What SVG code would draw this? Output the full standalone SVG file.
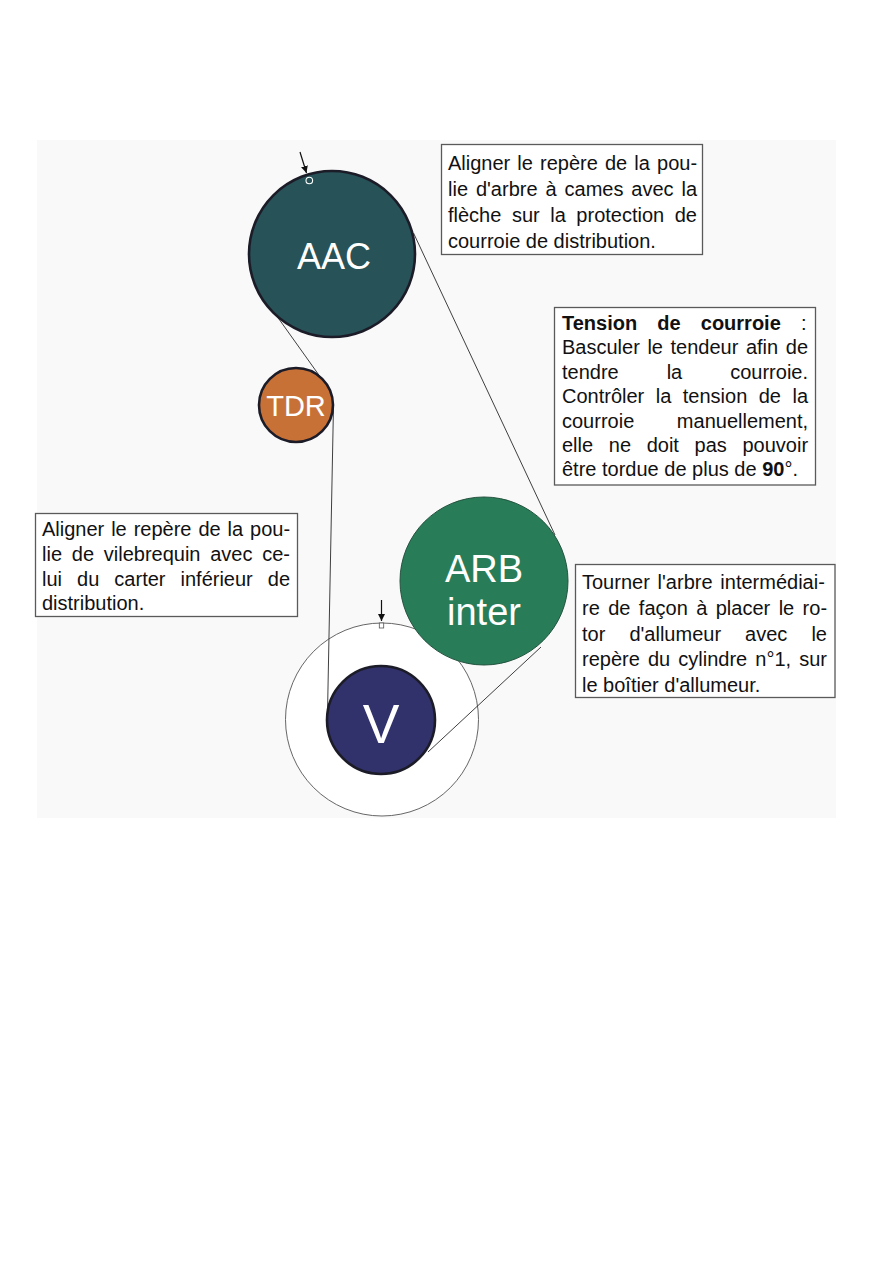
<svg xmlns="http://www.w3.org/2000/svg" width="893" height="1263" viewBox="0 0 893 1263">
<style>
.pulley{stroke:#1c1c28;stroke-width:2.6}
.lbl{font-family:"Liberation Sans",Arial,sans-serif;fill:#ffffff;text-anchor:middle}
.belt{fill:none;stroke:#2a2a2a;stroke-width:0.9}
.box{fill:#ffffff;stroke:#5a5a5a;stroke-width:1.3}
.t{font-family:"Liberation Sans",Arial,sans-serif;font-size:20px;fill:#111111}
.b{font-weight:bold}
.ptr{stroke:#111111;stroke-width:1.2;fill:none}
</style>
<defs>
<marker id="ah" viewBox="0 0 10 10" refX="10" refY="5" markerWidth="7" markerHeight="7" orient="auto" markerUnits="userSpaceOnUse">
<path d="M0,0 L10,5 L0,10 Z" fill="#111111"/>
</marker>
</defs>
<rect x="0" y="0" width="893" height="1263" fill="#ffffff"/>
<rect x="37" y="140" width="799" height="678" fill="#f9f9f9"/>

<g id="outer-ring">
<circle cx="382" cy="719.5" r="96.5" fill="#ffffff" stroke="#555555" stroke-width="0.9"/>
</g>

<g id="connectors">
<line class="belt" x1="413.5" y1="233" x2="555" y2="535"/>
<line class="belt" x1="277.5" y1="317" x2="326" y2="385"/>
<line class="belt" x1="333.5" y1="405" x2="327.5" y2="713"/>
<line class="belt" x1="428" y1="752" x2="541" y2="647"/>
<line class="ptr" x1="300" y1="152" x2="306.5" y2="173" marker-end="url(#ah)"/>
<line class="ptr" x1="381.5" y1="600" x2="381.5" y2="621" marker-end="url(#ah)"/>
</g>

<g id="AAC">
<circle class="pulley" cx="332" cy="254" r="83" fill="#265258"/>
<circle cx="309.3" cy="180.5" r="3.3" fill="none" stroke="#ffffff" stroke-width="1.1"/>
<text class="lbl" x="334" y="269" font-size="36">AAC</text>
</g>

<g id="TDR">
<circle class="pulley" cx="296" cy="405" r="37" fill="#c87137"/>
<text class="lbl" x="296" y="415.5" font-size="29">TDR</text>
</g>

<g id="ARB">
<circle cx="484" cy="581" r="84" fill="#287d58" stroke="#24533f" stroke-width="1"/>
<text class="lbl" x="484" y="582" font-size="38">ARB</text>
<text class="lbl" x="484" y="625" font-size="38">inter</text>
</g>

<g id="V">
<circle class="pulley" cx="381" cy="720" r="54" fill="#31316b"/>
<text class="lbl" x="381" y="742.5" font-size="55">V</text>
<rect x="379.3" y="623" width="4.4" height="5" fill="#ffffff" stroke="#555555" stroke-width="0.8"/>
</g>

<g id="note-aac">
<rect class="box" x="441.5" y="144.5" width="261" height="110"/>
<text class="t" x="448" y="170" word-spacing="1.56">Aligner le repère de la pou-</text>
<text class="t" x="448" y="196" word-spacing="2.36">lie d'arbre à cames avec la</text>
<text class="t" x="448" y="222" word-spacing="4.99">flèche sur la protection de</text>
<text class="t" x="448" y="247.5">courroie de distribution.</text>
</g>

<g id="note-tension">
<rect class="box" x="554.5" y="307.5" width="261" height="177.5"/>
<text class="t" x="562" y="329.5" word-spacing="14.57"><tspan class="b">Tension de courroie</tspan> :</text>
<text class="t" x="562" y="354" word-spacing="2.02">Basculer le tendeur afin de</text>
<text class="t" x="562" y="378.5" word-spacing="42.4">tendre la courroie.</text>
<text class="t" x="562" y="403" word-spacing="5.92">Contrôler la tension de la</text>
<text class="t" x="562" y="427.5" word-spacing="37.04">courroie manuellement,</text>
<text class="t" x="562" y="452" word-spacing="10.09">elle ne doit pas pouvoir</text>
<text class="t" x="562" y="476">être tordue de plus de <tspan class="b">90</tspan>°.</text>
</g>

<g id="note-vilebrequin">
<rect class="box" x="35.5" y="513.5" width="262" height="103"/>
<text class="t" x="42" y="536" word-spacing="1.36">Aligner le repère de la pou-</text>
<text class="t" x="42" y="561" word-spacing="4.19">lie de vilebrequin avec ce-</text>
<text class="t" x="42" y="585.5" word-spacing="9.49">lui du carter inférieur de</text>
<text class="t" x="42" y="610">distribution.</text>
</g>

<g id="note-arb">
<rect class="box" x="575.5" y="564.5" width="259.5" height="133"/>
<text class="t" x="582" y="588.5" word-spacing="2.24">Tourner l'arbre intermédiai-</text>
<text class="t" x="582" y="614.5" word-spacing="2.86">re de façon à placer le ro-</text>
<text class="t" x="582" y="640.5" word-spacing="18.5">tor d'allumeur avec le</text>
<text class="t" x="582" y="666" word-spacing="2.56">repère du cylindre n°1, sur</text>
<text class="t" x="582" y="691.5">le boîtier d'allumeur.</text>
</g>
</svg>
